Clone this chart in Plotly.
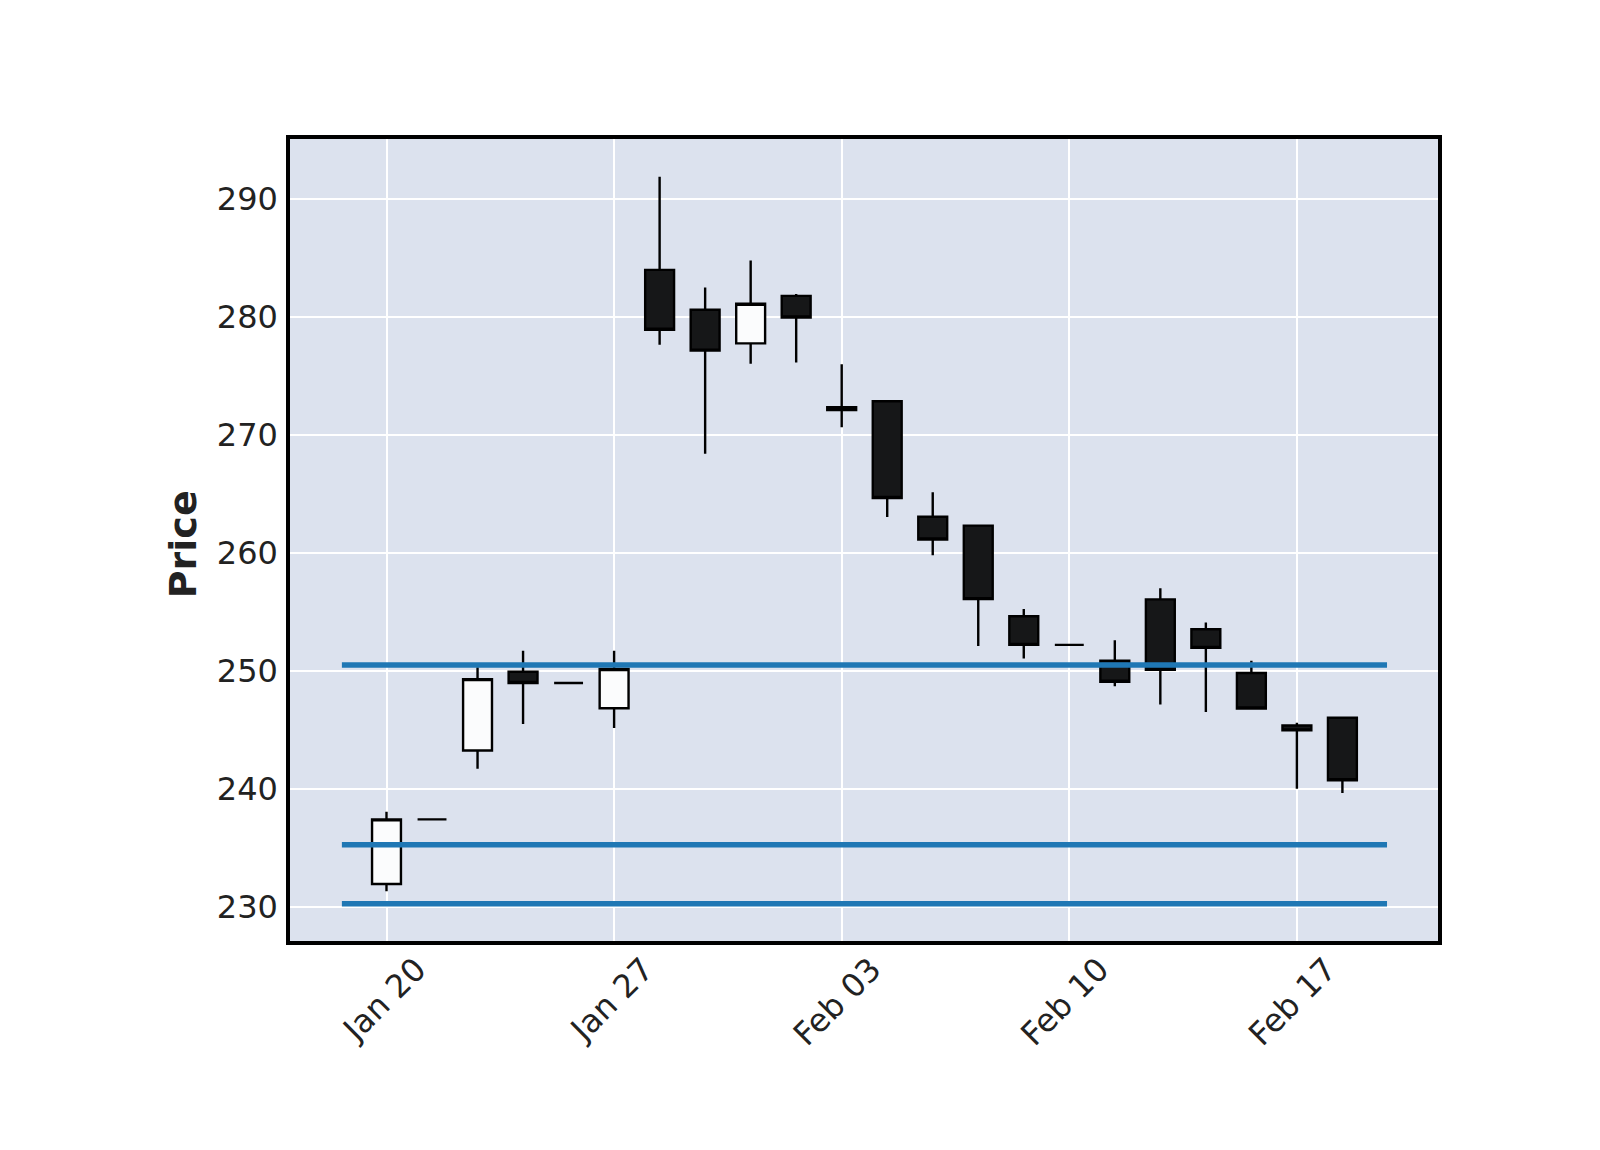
import plotly.graph_objects as go

# ---- data ----
dates = ["2025-01-20", "2025-01-21", "2025-01-22", "2025-01-23", "2025-01-24",
         "2025-01-27", "2025-01-28", "2025-01-29", "2025-01-30", "2025-01-31",
         "2025-02-03", "2025-02-04", "2025-02-05", "2025-02-06", "2025-02-07",
         "2025-02-10", "2025-02-11", "2025-02-12", "2025-02-13", "2025-02-14",
         "2025-02-17", "2025-02-18"]
opens = [231.92, 237.40, 243.25, 249.92, 248.97, 246.83, 284.00, 280.62, 277.77, 281.80,
         272.35, 272.86, 263.07, 262.31, 254.63, 252.20, 250.86, 256.06, 253.53, 249.82,
         245.37, 246.02]
highs = [238.05, 237.40, 250.30, 251.70, 248.97, 251.70, 291.90, 282.50, 284.80, 281.95,
         276.00, 272.86, 265.15, 262.31, 255.25, 252.20, 252.60, 257.00, 254.10, 250.85,
         245.60, 246.02]
lows = [231.30, 237.40, 241.70, 245.50, 248.97, 245.15, 277.65, 268.40, 276.05, 276.15,
        270.65, 263.05, 259.80, 252.10, 251.05, 252.20, 248.70, 247.15, 246.50, 246.80,
        240.00, 239.65]
closes = [237.40, 237.40, 249.30, 248.97, 248.97, 250.16, 278.92, 277.15, 281.13, 279.96,
          272.12, 264.66, 261.14, 256.08, 252.20, 252.20, 249.08, 250.09, 251.95, 246.80,
          244.95, 240.72]

hline_levels = [250.5, 235.25, 230.25]

tick_dates = ["2025-01-20", "2025-01-27", "2025-02-03", "2025-02-10", "2025-02-17"]
tick_labels = ["Jan 20", "Jan 27", "Feb 03", "Feb 10", "Feb 17"]

y_ticks = [230, 240, 250, 260, 270, 280, 290]

# ---- figure ----
fig = go.Figure()
fig.add_trace(go.Candlestick(
    x=dates, open=opens, high=highs, low=lows, close=closes,
    increasing=dict(line=dict(color="#000000", width=2.4), fillcolor="#FBFCFD"),
    decreasing=dict(line=dict(color="#000000", width=2.4), fillcolor="#161718"),
    whiskerwidth=0,
    showlegend=False,
    hoverinfo="x+y",
))

for lvl in hline_levels:
    fig.add_shape(type="line", xref="x", yref="y",
                  x0=-0.98, x1=len(dates) - 1 + 0.98, y0=lvl, y1=lvl,
                  line=dict(color="#1F77B4", width=5.5), layer="above")

fig.add_annotation(text="<b>Price</b>", xref="paper", yref="paper",
                   x=-0.093, y=0.495, xanchor="center", yanchor="middle",
                   textangle=-90, showarrow=False,
                   font=dict(family="DejaVu Sans", size=38, color="#222222"))

fig.update_layout(
    width=1600, height=1150,
    margin=dict(l=290, r=162, t=139, b=209),
    paper_bgcolor="#FFFFFF",
    plot_bgcolor="#DCE2EE",
    boxgap=0.365, boxgroupgap=0,
    font=dict(family="DejaVu Sans", size=32, color="#222222"),
    showlegend=False,
)
fig.update_xaxes(
    type="category", range=[-2.12, len(dates) - 1 + 2.1],
    tickmode="array", tickvals=tick_dates, ticktext=tick_labels,
    tickangle=-45, ticks="", ticklabelshift=30, ticklabelstandoff=-7,
    showgrid=True, gridcolor="#FFFFFF", gridwidth=1.8,
    showline=True, linecolor="#000000", linewidth=3.5, mirror=True,
    rangeslider=dict(visible=False), zeroline=False,
    tickfont=dict(family="DejaVu Sans", size=32, color="#222222"),
)
fig.update_yaxes(
    range=[227.09, 295.1], tickmode="array", tickvals=y_ticks,
    ticks="", showgrid=True, gridcolor="#FFFFFF", gridwidth=1.8,
    showline=True, linecolor="#000000", linewidth=3.5, mirror=True,
    zeroline=False, ticklabelstandoff=2,
    tickfont=dict(family="DejaVu Sans", size=32, color="#222222"),
)

fig.write_html("out.html")
